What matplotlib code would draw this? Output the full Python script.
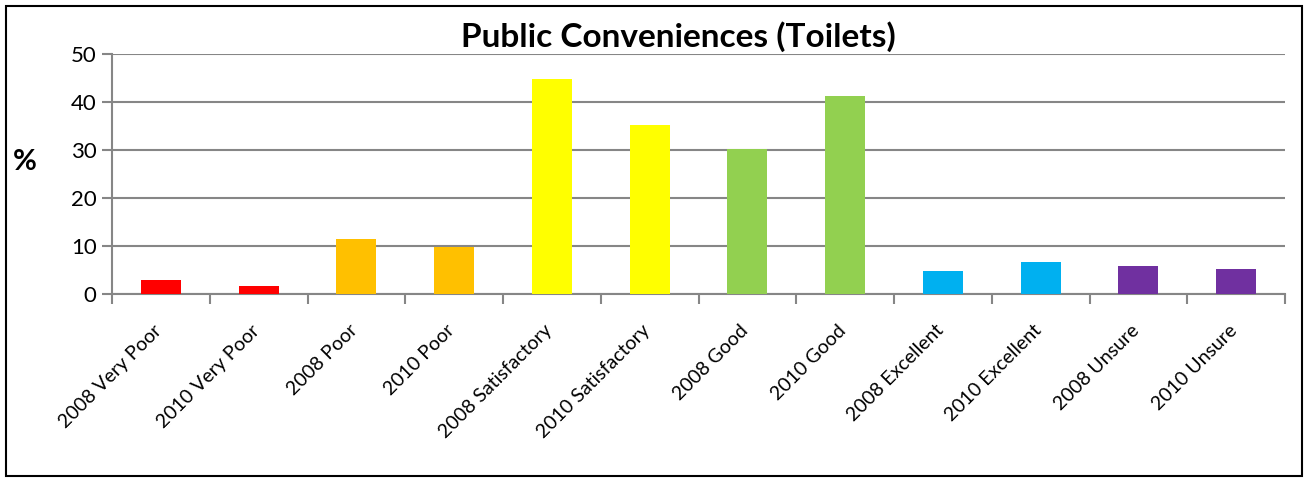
import matplotlib
matplotlib.use("Agg")
import matplotlib.pyplot as plt
from matplotlib.patches import Rectangle
from matplotlib.transforms import ScaledTranslation

plt.rcParams['font.family'] = ['Lato', 'DejaVu Sans']

# categories and values (%)
labels = ["2008 Very Poor", "2010 Very Poor", "2008 Poor", "2010 Poor",
          "2008 Satisfactory", "2010 Satisfactory", "2008 Good", "2010 Good",
          "2008 Excellent", "2010 Excellent", "2008 Unsure", "2010 Unsure"]
values = [2.9, 1.7, 11.5, 9.8, 44.7, 35.2, 30.2, 41.3, 4.8, 6.6, 5.8, 5.2]
colors = ["#FF0000", "#FF0000", "#FFC000", "#FFC000", "#FFFF00", "#FFFF00",
          "#92D050", "#92D050", "#00B0F0", "#00B0F0", "#7030A0", "#7030A0"]
yticks = [0, 10, 20, 30, 40, 50]

fig = plt.figure(figsize=(13.09, 4.82), dpi=100)
ax = fig.add_axes([112/1309, 1-294/482, (1285-112)/1309, (294-54)/482])

x = range(len(labels))
ax.bar(x, values, width=0.41, color=colors, zorder=3)

ax.set_xlim(-0.5, len(labels) - 0.5)
ax.set_ylim(0, 50)
ax.set_yticks(yticks)
ax.tick_params(axis='y', labelsize=16, length=7, width=1.5, color='#868686', pad=4)
ax.yaxis.grid(True, color='#868686', linewidth=1.5, zorder=0)

# category labels centred, ticks on category boundaries
ax.set_xticks(list(x))
ax.set_xticklabels(labels, rotation=45, ha='right', fontsize=14)
ax.tick_params(axis='x', which='major', length=0, pad=20)
shift = ScaledTranslation(4/100, 0, fig.dpi_scale_trans)
for lbl in ax.get_xticklabels():
    lbl.set_transform(lbl.get_transform() + shift)
ax.set_xticks([i - 0.5 for i in range(len(labels) + 1)], minor=True)
ax.tick_params(axis='x', which='minor', length=7, width=1.5, color='#868686')

for s in ['top', 'right']:
    ax.spines[s].set_visible(False)
for s in ['left', 'bottom']:
    ax.spines[s].set_color('#868686')
    ax.spines[s].set_linewidth(1.5)

fig.text(678/1309, 1-37/482, "Public Conveniences (Toilets)", ha='center', va='center',
         fontsize=24, fontweight='bold')
fig.text(25/1309, 1-162/482, "%", ha='center', va='center', fontsize=21, fontweight='bold')

# outer chart border
fig.patches.append(Rectangle((6/1309, 6/482), 1296/1309, 470/482, transform=fig.transFigure,
                             fill=False, edgecolor='black', linewidth=1.5))

fig.savefig("out.png", dpi=100)
